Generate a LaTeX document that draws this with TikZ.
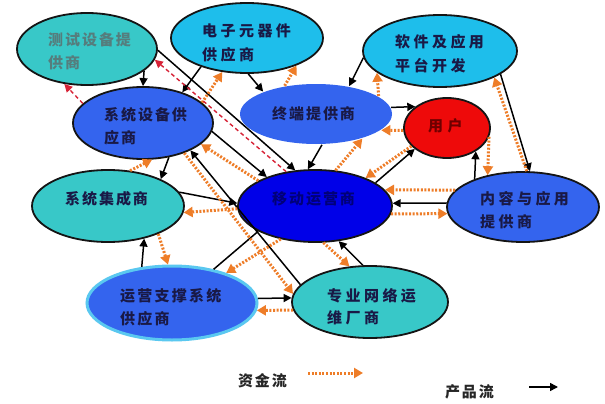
\documentclass[tikz,border=0pt]{standalone}
\usepackage{fontspec}
\newfontfamily\cjk{Noto Sans CJK SC}
\usetikzlibrary{shapes.geometric,arrows.meta}
\definecolor{teal1}{RGB}{56,200,200}
\definecolor{cyan1}{RGB}{30,190,235}
\definecolor{blue1}{RGB}{52,100,238}
\definecolor{blue2}{RGB}{0,0,232}
\definecolor{red1}{RGB}{238,10,10}
\definecolor{edge}{RGB}{20,20,20}
\definecolor{ossedge}{RGB}{90,200,240}
\definecolor{navy}{RGB}{25,25,70}
\definecolor{grayteal}{RGB}{85,125,125}
\definecolor{darkred1}{RGB}{110,0,0}
\definecolor{mobtext}{RGB}{0,0,120}
\definecolor{moneyc}{RGB}{238,125,40}
\definecolor{redline}{RGB}{215,35,55}
\newcommand\ls[1]{\addfontfeature{LetterSpace=#1}}
\begin{document}
\begin{tikzpicture}[x=1pt,y=-1pt,
 oval/.style={ellipse, inner sep=0pt, draw=edge, line width=1.8pt},
 txt/.style={anchor=base west, inner sep=0pt, font=\cjk\bfseries\fontsize{15}{15}\selectfont, text=navy},
 prod/.style={draw=black, line width=1.5pt, -{Triangle[length=8pt,width=8pt]}},
 plainprod/.style={draw=black, line width=1.5pt},
 money/.style={draw=moneyc, line width=3pt, dash pattern=on 2pt off 1.6pt, -{Triangle[length=9pt,width=10pt]}},
 refl/.style={draw=redline, line width=1.4pt, dash pattern=on 4pt off 3pt, -{Triangle[length=8pt,width=8pt]}}]
\fill[white] (0,0) rectangle (605,404);
\useasboundingbox (0,0) rectangle (605,404);

% ellipses
\node[oval, fill=teal1, minimum width=140pt, minimum height=72pt] (test) at (87,49) {};
\node[oval, fill=cyan1, minimum width=152pt, minimum height=70pt] (elec) at (247,38) {};
\node[oval, fill=cyan1, minimum width=154pt, minimum height=72pt] (soft) at (440,51) {};
\node[oval, fill=blue1, minimum width=140pt, minimum height=72pt] (sysdev) at (143,123) {};
\node[oval, fill=blue1, draw=none, minimum width=152pt, minimum height=60pt] (term) at (316,114) {};
\node[oval, fill=red1, minimum width=86pt, minimum height=60pt] (user) at (447,128) {};
\node[oval, fill=teal1, minimum width=152pt, minimum height=72pt] (sysint) at (108,206) {};
\node[oval, fill=blue2, minimum width=154pt, minimum height=72pt] (mobile) at (315,206) {};
\node[oval, fill=blue1, minimum width=152pt, minimum height=70pt] (content) at (523,207) {};
\node[oval, fill=blue1, draw=ossedge, line width=3pt, minimum width=170pt, minimum height=74pt] (oss) at (172,303) {};
\node[oval, fill=teal1, minimum width=156pt, minimum height=72pt] (net) at (370,302) {};

% product flow
\draw[prod] (test.-21) -- (sysdev.90);
\draw[prod] (test.-1) -- (mobile.119);
\draw[prod] (elec.-148) -- (sysdev.38);
\draw[prod] (elec.-88) -- (term.157);
\draw[prod] (soft.-175) -- (term.40);
\draw[prod] (soft.-21) -- (content.79);
\draw[prod] (term.5) -- (user.146);
\draw[prod] (term.-79) -- (mobile.101);
\draw[prod] (mobile.21) -- (user.-147);
\draw[prod] (content.150) -- (user.-39);
\draw[prod] (content.177) -- (mobile.2);
\draw[prod] (net.101) -- (mobile.-56);
\draw[prod] (oss.3) -- (net.177);
\draw[plainprod] (oss.39) -- (mobile.-156);
\draw[prod] (oss.130) -- (sysint.-42);
\draw[prod] (sysint.11) -- (mobile.178);
\draw[prod] (sysdev.-53) -- (sysint.27);
\draw[prod] (sysdev.-7) -- (mobile.149);
\draw[prod] (net.166) -- (sysdev.-30);

% money flow
\draw[money] (sysdev.19) -- (elec.-126);
\draw[money] (term.138) -- (elec.-29);
\draw[money] (term.16) -- (soft.-161);
\draw[money] (content.84) -- (soft.-26);
\draw[money] (user.-177) -- (term.-14);
\draw[money] (mobile.60) -- (term.-28);
\draw[money] (user.-153) -- (mobile.29);
\draw[money] (user.-12) -- (content.138);
\draw[money] (content.166) -- (mobile.13);
\draw[money] (mobile.-6) -- (content.-175);
\draw[money] (mobile.-77) -- (net.120);
\draw[money] (net.-174) -- (oss.-5);
\draw[money] (mobile.-136) -- (oss.29);
\draw[money] (sysint.-29) -- (oss.96);
\draw[money] (mobile.-178) -- (sysint.-5);
\draw[money] (sysint.58) -- (sysdev.-76);
\draw[money] (mobile.156) -- (sysdev.-20);
\draw[money] (sysdev.-36) -- (net.174);

% red dashed
\draw[refl] (mobile.130) -- (test.-9);
\draw[refl] (sysdev.162) -- (test.-123);

% texts
\node[txt, text=grayteal] (testT1) at (48,46) {\ls{13}测试设备提};
\node[txt, text=grayteal] (testT2) at (48,68) {\ls{13}供商};
\node[txt] (elecT1) at (202,37) {\ls{23}电子元器件};
\node[txt] (elecT2) at (202,61) {\ls{23}供应商};
\node[txt] (softT1) at (395,48) {\ls{23}软件及应用};
\node[txt] (softT2) at (395,72) {\ls{23}平台开发};
\node[txt] (sysdevT1) at (104,120) {\ls{13}系统设备供};
\node[txt] (sysdevT2) at (104,143) {\ls{13}应商};
\node[txt] (termT) at (272,119) {\ls{13}终端提供商};
\node[txt, text=darkred1] (userT) at (428,131) {\ls{13}用\hspace{4.5pt}户};
\node[txt] (sysintT) at (65,204) {\ls{13}系统集成商};
\node[txt, text=mobtext] (mobileT) at (272,204) {\ls{13}移动运营商};
\node[txt] (contentT1) at (480,204) {\ls{23}内容与应用};
\node[txt] (contentT2) at (480,227) {\ls{23}提供商};
\node[txt] (ossT1) at (120,301) {\ls{15}运营支撑系统};
\node[txt] (ossT2) at (120,324) {\ls{15}供应商};
\node[txt] (netT1) at (327,301) {\ls{23}专业网络运};
\node[txt] (netT2) at (327,323) {\ls{23}维厂商};

% legend
\node[txt, text=black!85] (legM) at (238,386) {\ls{12}资金流};
\node[txt, text=black!85] (legP) at (445,397) {\ls{12}产品流};
\coordinate (lm1) at (308,373);
\coordinate (lm2) at (363,373);
\coordinate (lp1) at (529,387);
\coordinate (lp2) at (558,387);
\draw[money] (lm1) -- (lm2);
\draw[prod] (lp1) -- (lp2);
\end{tikzpicture}
\end{document}
